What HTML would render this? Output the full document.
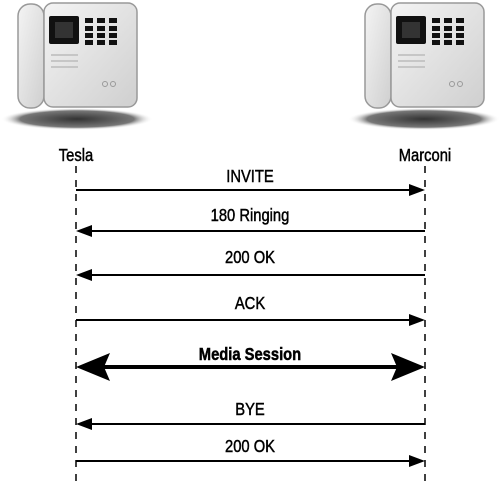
<!DOCTYPE html>
<html><head><meta charset="utf-8"><style>
html,body{margin:0;padding:0;background:#fff;}
svg{display:block;}
text{font-family:"Liberation Sans",sans-serif;font-size:18px;fill:#000;stroke:#000;stroke-width:0.5;}
</style></head><body>
<svg width="501" height="484" viewBox="0 0 501 484" xmlns="http://www.w3.org/2000/svg">
<defs>
<radialGradient id="sh" cx="50%" cy="50%" r="50%"><stop offset="0" stop-color="#333"/><stop offset="0.75" stop-color="#777"/><stop offset="1" stop-color="#fff" stop-opacity="0"/></radialGradient>
<linearGradient id="bd" x1="0" y1="0" x2="1" y2="1"><stop offset="0" stop-color="#f4f4f4"/><stop offset="1" stop-color="#cfcfcf"/></linearGradient>
<g id="phone">
<ellipse cx="77" cy="119" rx="76" ry="11" fill="url(#sh)"/>
<rect x="18" y="4" width="26" height="104" rx="12" fill="url(#bd)" stroke="#999" stroke-width="1.5"/>
<rect x="44" y="3" width="93" height="104" rx="9" fill="url(#bd)" stroke="#999" stroke-width="1.5"/>
<rect x="49" y="16" width="30" height="28" rx="2" fill="#111"/>
<rect x="55" y="22" width="18" height="16" fill="#333"/>
<g fill="#111">
<rect x="85" y="18" width="8" height="5"/><rect x="97" y="18" width="8" height="5"/><rect x="109" y="18" width="8" height="5"/>
<rect x="85" y="26" width="8" height="5"/><rect x="97" y="26" width="8" height="5"/><rect x="109" y="26" width="8" height="5"/>
<rect x="85" y="33" width="8" height="5"/><rect x="97" y="33" width="8" height="5"/><rect x="109" y="33" width="8" height="5"/>
<rect x="85" y="40" width="8" height="5"/><rect x="97" y="40" width="8" height="5"/><rect x="109" y="40" width="8" height="5"/>
</g>
<g stroke="#bbb" stroke-width="1.5"><line x1="51" y1="55" x2="78" y2="55"/><line x1="51" y1="61" x2="78" y2="61"/><line x1="51" y1="67" x2="78" y2="67"/></g>
<circle cx="105" cy="84" r="2.5" fill="none" stroke="#999"/><circle cx="113" cy="84" r="2.5" fill="none" stroke="#999"/>
</g>
</defs>
<use href="#phone"/>
<use href="#phone" x="347"/>
<text x="76" y="161" text-anchor="middle" transform="translate(76 0) scale(0.82 1) translate(-76 0)">Tesla</text>
<text x="425" y="161" text-anchor="middle" transform="translate(425 0) scale(0.82 1) translate(-425 0)">Marconi</text>
<g stroke="#000" stroke-width="1.5" stroke-dasharray="7 7">
<line x1="76" y1="166" x2="76" y2="484"/><line x1="425" y1="166" x2="425" y2="484"/>
</g>
<g stroke="#000" stroke-width="2">
<line x1="76" y1="190" x2="412" y2="190"/>
<line x1="89" y1="231" x2="425" y2="231"/>
<line x1="89" y1="275" x2="425" y2="275"/>
<line x1="76" y1="320" x2="412" y2="320"/>
<line x1="100" y1="367" x2="400" y2="367" stroke-width="4"/>
<line x1="89" y1="424" x2="425" y2="424"/>
<line x1="76" y1="461" x2="412" y2="461"/>
</g>
<g fill="#000">
<polygon points="425,190 409,184 409,196"/>
<polygon points="76,231 92,225 92,237"/>
<polygon points="76,275 92,269 92,281"/>
<polygon points="425,320 409,314 409,326"/>
<polygon points="76,367 110,353 104,367 110,381"/>
<polygon points="425,367 391,353 397,367 391,381"/>
<polygon points="76,424 92,418 92,430"/>
<polygon points="425,461 409,455 409,467"/>
</g>
<g text-anchor="middle">
<text x="250" y="182" transform="translate(250 0) scale(0.82 1) translate(-250 0)">INVITE</text>
<text x="250" y="221" transform="translate(250 0) scale(0.82 1) translate(-250 0)">180 Ringing</text>
<text x="250" y="263" transform="translate(250 0) scale(0.82 1) translate(-250 0)">200 OK</text>
<text x="250" y="309" transform="translate(250 0) scale(0.82 1) translate(-250 0)">ACK</text>
<text x="250" y="360" font-weight="bold" transform="translate(250 0) scale(0.82 1) translate(-250 0)">Media Session</text>
<text x="250" y="415" transform="translate(250 0) scale(0.82 1) translate(-250 0)">BYE</text>
<text x="250" y="452" transform="translate(250 0) scale(0.82 1) translate(-250 0)">200 OK</text>
</g>
</svg>
</body></html>
